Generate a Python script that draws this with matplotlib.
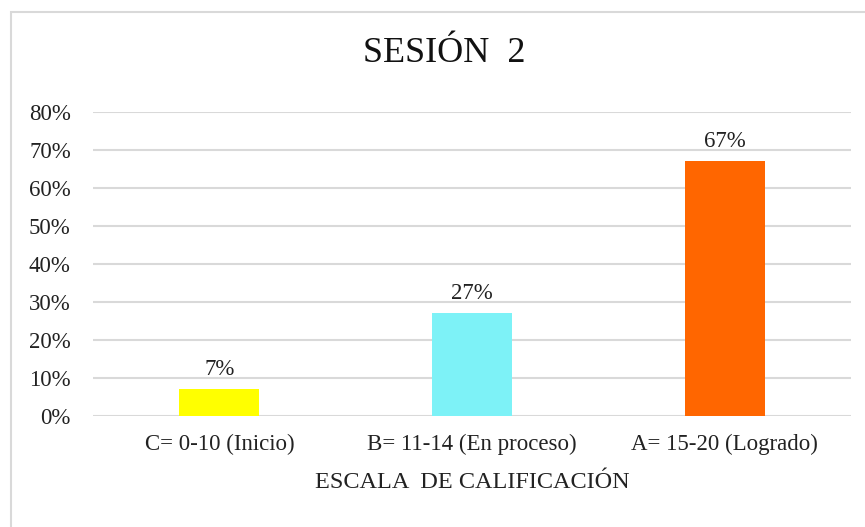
import matplotlib
matplotlib.use("Agg")
import matplotlib.pyplot as plt
from matplotlib.patches import Rectangle
from matplotlib.ticker import PercentFormatter

# datos
categorias = ["C= 0-10 (Inicio)", "B= 11-14 (En proceso)", "A= 15-20 (Logrado)"]
porcentajes = [7, 27, 67]
colores = ["#FFFF00", "#7DF2F7", "#FF6600"]
titulo = "SESIÓN  2"
eje_x = "ESCALA  DE CALIFICACIÓN"

plt.rcParams["font.family"] = ["Liberation Serif", "DejaVu Serif"]
GRID = "#D9D9D9"

fig = plt.figure(figsize=(8.65, 5.27), dpi=100)
ax = fig.add_axes([93 / 865, 1 - 416 / 527, (851 - 93) / 865, (416 - 112) / 527])

x = range(len(categorias))
bars = ax.bar(x, porcentajes, width=0.316, color=colores, zorder=3)
for b, v in zip(bars, porcentajes):
    ax.annotate(f"{v}%", (b.get_x() + b.get_width() / 2, v),
                xytext=(0, 7), textcoords="offset points",
                ha="center", va="bottom", fontsize=16.5, color="#222222")

ax.set_xlim(-0.5, 2.5)
ax.set_ylim(0, 80)
ax.set_yticks(range(0, 81, 10))
ax.yaxis.set_major_formatter(PercentFormatter(decimals=0))
ax.set_xticks(list(x))
ax.set_xticklabels(categorias)
ax.tick_params(axis="both", length=0, labelsize=16.5, colors="#222222")
ax.tick_params(axis="y", pad=16)
ax.tick_params(axis="x", pad=13)
ax.grid(axis="y", color=GRID, lw=1.5, zorder=0)
for s in ax.spines.values():
    s.set_visible(False)

ax.set_xlabel(eje_x, fontsize=17.5, color="#222222", labelpad=12)

fig.text(444 / 865, 1 - 54 / 527, titulo, ha="center", va="center",
         fontsize=26, color="#111111")

# borde del gráfico
fig.patches.append(Rectangle((11 / 865, -0.05), 1.1, 1 - 12 / 527 + 0.05,
                             transform=fig.transFigure, fill=False,
                             edgecolor=GRID, lw=1.5))

fig.savefig("out.png", dpi=100)
